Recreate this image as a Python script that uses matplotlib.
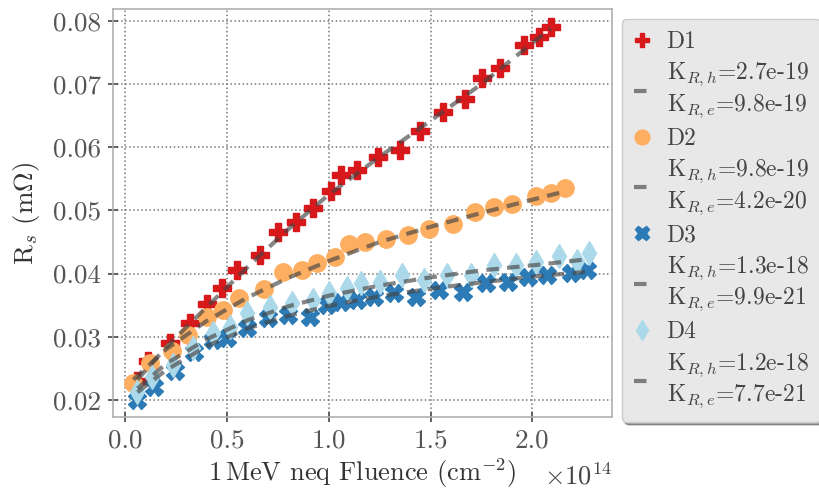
import numpy as np
import matplotlib
matplotlib.use("Agg")
import matplotlib.pyplot as plt

plt.rcParams['font.family'] = 'serif'
plt.rcParams['font.serif'] = ['cmr10', 'DejaVu Serif']
plt.rcParams['mathtext.fontset'] = 'cm'
plt.rcParams['axes.formatter.use_mathtext'] = True
plt.rcParams['axes.unicode_minus'] = False

# fluence in units of 1e14 cm^-2, R_s in mOhm
x_d1 = [0.06, 0.11, 0.22, 0.32, 0.40, 0.475, 0.55, 0.66, 0.75, 0.84, 0.92, 1.01,
        1.06, 1.14, 1.24, 1.35, 1.45, 1.56, 1.67, 1.75, 1.84, 1.96, 2.03, 2.09]
y_d1 = [0.0230, 0.0262, 0.0290, 0.0322, 0.0352, 0.0377, 0.0406, 0.0430, 0.0465, 0.0481,
        0.0504, 0.0530, 0.0556, 0.0564, 0.0585, 0.0595, 0.0626, 0.0656, 0.0676, 0.0710,
        0.0725, 0.0762, 0.0775, 0.0790]

x_d2 = [0.04, 0.12, 0.23, 0.31, 0.40, 0.48, 0.56, 0.68, 0.775, 0.87, 0.94, 1.03,
        1.10, 1.18, 1.28, 1.39, 1.49, 1.61, 1.72, 1.81, 1.90, 2.02, 2.09, 2.16]
y_d2 = [0.0226, 0.0258, 0.0278, 0.0303, 0.0332, 0.0342, 0.0361, 0.0375, 0.0402, 0.0406,
        0.0416, 0.0426, 0.0447, 0.0450, 0.0455, 0.0461, 0.0470, 0.0478, 0.0498, 0.0505,
        0.0510, 0.0523, 0.0527, 0.0535]

x_d3 = [0.06, 0.14, 0.245, 0.34, 0.43, 0.50, 0.60, 0.70, 0.80, 0.91, 0.99, 1.06,
        1.14, 1.22, 1.32, 1.43, 1.54, 1.66, 1.77, 1.88, 1.98, 2.07, 2.19, 2.27]
y_d3 = [0.0200, 0.0220, 0.0245, 0.0276, 0.0295, 0.0298, 0.0314, 0.0330, 0.0335, 0.0332,
        0.0350, 0.0355, 0.0358, 0.0363, 0.0369, 0.0363, 0.0374, 0.0371, 0.0385, 0.0387,
        0.0395, 0.0398, 0.0401, 0.0406]

x_d4 = [0.06, 0.13, 0.235, 0.335, 0.43, 0.515, 0.60, 0.71, 0.82, 0.92, 1.00, 1.09,
        1.16, 1.25, 1.36, 1.47, 1.58, 1.70, 1.81, 1.92, 2.02, 2.13, 2.22, 2.28]
y_d4 = [0.0213, 0.0237, 0.0255, 0.0282, 0.0306, 0.0316, 0.0337, 0.0347, 0.0353, 0.0358,
        0.0369, 0.0377, 0.0385, 0.0387, 0.0398, 0.0390, 0.0398, 0.0398, 0.0414, 0.0414,
        0.0418, 0.0427, 0.0420, 0.0432]

# fit curves
fx_d1 = [0.06, 0.2, 0.4, 0.6, 0.8, 1.0, 1.25, 1.5, 1.75, 2.0, 2.09]
fy_d1 = [0.0232, 0.0283, 0.0347, 0.0410, 0.0470, 0.0525, 0.0585, 0.0642, 0.0700, 0.0765, 0.0788]
fx_d2 = [0.04, 0.2, 0.4, 0.6, 0.8, 1.0, 1.25, 1.5, 1.75, 2.0, 2.16]
fy_d2 = [0.0232, 0.0280, 0.0325, 0.0362, 0.0393, 0.0420, 0.0450, 0.0474, 0.0496, 0.0517, 0.0530]
fx_d3 = [0.06, 0.2, 0.4, 0.6, 0.8, 1.0, 1.25, 1.5, 1.75, 2.0, 2.27]
fy_d3 = [0.0212, 0.0247, 0.0285, 0.0313, 0.0333, 0.0349, 0.0364, 0.0376, 0.0386, 0.0395, 0.0403]
fx_d4 = [0.06, 0.2, 0.4, 0.6, 0.8, 1.0, 1.25, 1.5, 1.75, 2.0, 2.28]
fy_d4 = [0.0218, 0.0257, 0.0296, 0.0326, 0.0348, 0.0365, 0.0381, 0.0394, 0.0405, 0.0413, 0.0423]

labels = ['D1', 'D2', 'D3', 'D4']
fit_labels = ['K$_{R,h}$=2.7e-19\nK$_{R,e}$=9.8e-19',
              'K$_{R,h}$=9.8e-19\nK$_{R,e}$=4.2e-20',
              'K$_{R,h}$=1.3e-18\nK$_{R,e}$=9.9e-21',
              'K$_{R,h}$=1.2e-18\nK$_{R,e}$=7.7e-21']
colors = ['#d7191c', '#fdae61', '#2c7bb6', '#abd9e9']
markers = ['P', 'o', 'X', 'd']

fig = plt.figure(figsize=(8.19, 4.94), dpi=100)
ax = fig.add_axes([0.138, 0.156, 0.609, 0.826])

data = [(x_d1, y_d1, fx_d1, fy_d1), (x_d2, y_d2, fx_d2, fy_d2),
        (x_d3, y_d3, fx_d3, fy_d3), (x_d4, y_d4, fx_d4, fy_d4)]
for i, (xs, ys, fx, fy) in enumerate(data):
    ax.plot(xs, ys, ls='none', marker=markers[i], ms=12.5, color=colors[i],
            mec=colors[i], label=labels[i], zorder=3)
    ax.plot(fx, fy, ls=(0, (3, 2)), lw=3, color='#444444', alpha=0.65,
            label=fit_labels[i], zorder=4)

ax.set_xlim(-0.06, 2.39)
ax.set_ylim(0.0173, 0.0819)
ax.set_xticks([0.0, 0.5, 1.0, 1.5, 2.0])
ax.set_yticks([0.02, 0.03, 0.04, 0.05, 0.06, 0.07, 0.08])
ax.set_xticklabels(['0.0', '0.5', '1.0', '1.5', '2.0'])
ax.set_yticklabels(['0.02', '0.03', '0.04', '0.05', '0.06', '0.07', '0.08'])

ax.grid(True, ls=':', color='#777777', lw=1.1)
for s in ax.spines.values():
    s.set_color('#b0b0b0')
    s.set_linewidth(1.2)
ax.tick_params(direction='inout', length=7, width=1.3, color='#555555',
               labelcolor='#555555', labelsize=19.5, pad=5)

ax.set_xlabel(r'1$\,$MeV neq Fluence (cm$^{-2}$)', fontsize=19, color='#333333', labelpad=3)
ax.set_ylabel(r'R$_s$ (m$\Omega$)', fontsize=19.5, color='#333333', labelpad=8)
ax.text(1.0, -0.146, r'$\times10^{14}$', transform=ax.transAxes, fontsize=19,
        color='#444444', ha='right', va='center')

leg = ax.legend(loc='upper left', bbox_to_anchor=(1.02, 0.975), fontsize=17,
                frameon=True, shadow=True, fancybox=True, handlelength=0.7,
                handletextpad=0.7, labelspacing=0.33, borderpad=0.5,
                markerscale=0.85, borderaxespad=0)
leg.get_frame().set_facecolor('#e8e8e8')
leg.get_frame().set_edgecolor('#cccccc')
leg.get_frame().set_alpha(1.0)
for t in leg.get_texts():
    t.set_color('#444444')

fig.savefig('out.png', dpi=100)
